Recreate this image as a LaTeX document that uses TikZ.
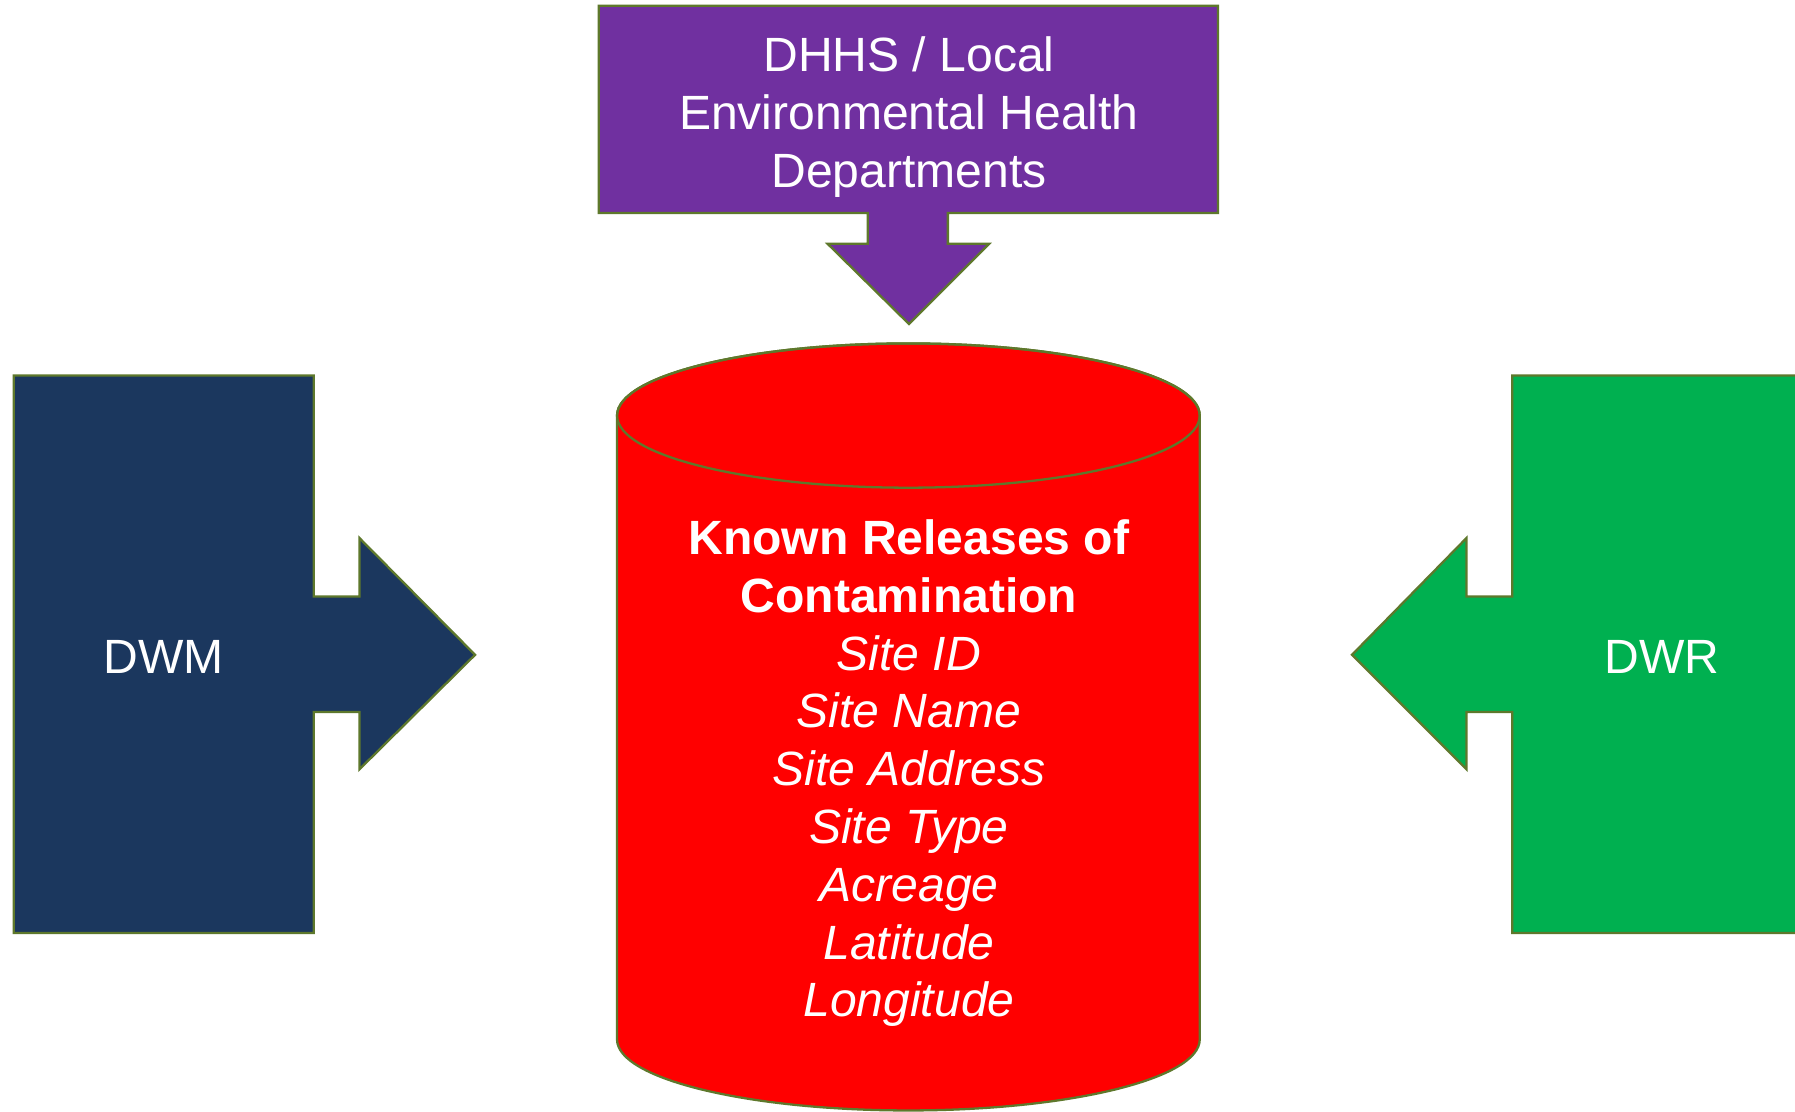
\documentclass[tikz,border=0pt]{standalone}
\usepackage{fontspec}
\setmainfont{Liberation Sans}
\definecolor{olive}{RGB}{94,120,44}
\definecolor{dpurple}{RGB}{112,48,160}
\definecolor{dnavy}{RGB}{27,55,94}
\definecolor{dgreen}{RGB}{0,176,80}
\definecolor{dred}{RGB}{255,0,0}
\tikzset{
  shapeline/.style={draw=olive, line width=1pt, line join=miter},
  lbl/.style={text=white, align=center, font=\fontsize{21}{25.25}\selectfont, inner sep=0pt}
}
\begin{document}
\begin{tikzpicture}[x=0.5pt, y=0.5pt]
\clip (0,0) rectangle (1568,-971);
\fill[white] (0,0) rectangle (1568,-971);
% purple source
\draw[shapeline, fill=dpurple] (523,-5) -- (1064,-5) -- (1064,-186) -- (828,-186) -- (828,-213) -- (864,-213) -- (794,-283) -- (723,-213) -- (758,-213) -- (758,-186) -- (523,-186) -- cycle;
\node[lbl] (dhhs) at (794,-102) {DHHS / Local\\Environmental Health\\Departments};
% DWM
\draw[shapeline, fill=dnavy] (12,-328) -- (274,-328) -- (274,-521) -- (314,-521) -- (314,-470) -- (415,-572) -- (314,-672) -- (314,-622) -- (274,-622) -- (274,-815) -- (12,-815) -- cycle;
\node[lbl] (dwm) at (143,-574) {DWM};
% DWR
\draw[shapeline, fill=dgreen] (1600,-328) -- (1321,-328) -- (1321,-521) -- (1281,-521) -- (1281,-470) -- (1181,-572) -- (1281,-672) -- (1281,-622) -- (1321,-622) -- (1321,-815) -- (1600,-815) -- cycle;
\node[lbl] (dwr) at (1452,-574) {DWR};
% cylinder
\draw[shapeline, fill=dred] (539,-363) -- (539,-908) arc[start angle=180, end angle=360, x radius=127.25pt, y radius=31pt] -- (1048,-363) arc[start angle=0, end angle=180, x radius=127.25pt, y radius=31.5pt] -- cycle;
\draw[shapeline] (793.5,-363) ellipse[x radius=127.25pt, y radius=31.5pt];
\node[lbl] (db) at (794,-675.5) {\textbf{Known Releases of}\\\textbf{Contamination}\\\textit{Site ID}\\\textit{Site Name}\\\textit{Site Address}\\\textit{Site Type}\\\textit{Acreage}\\\textit{Latitude}\\\textit{Longitude}};
\end{tikzpicture}
\end{document}
